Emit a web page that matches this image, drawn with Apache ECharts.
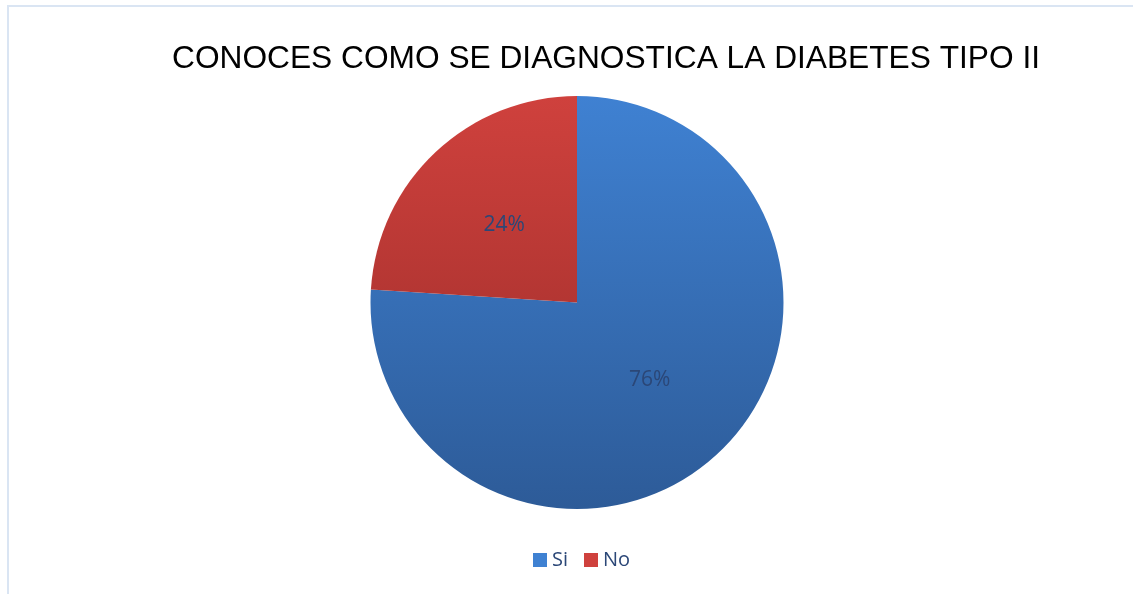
<!DOCTYPE html>
<html>
<head>
<meta charset="utf-8">
<script src="https://cdn.jsdelivr.net/npm/echarts@6/dist/echarts.min.js"></script>
<style>
  html, body { margin: 0; padding: 0; background: #fff; }
  #chart-div { width: 1133px; height: 594px; }
</style>
</head>
<body>
<div id="chart-div"></div>
<script>
// datos del grafico
const categories = ['Si', 'No']
const values = [76, 24]
const colorsTop = ['#3F81D2', '#CF413D']
const colorsBottom = ['#2D5B98', '#982B28']

let myChart = echarts.init(document.getElementById('chart-div'))

// degradado vertical sobre todo el circulo
function grad(i) {
    return {
        type: 'linear', x: 0, y: 96, x2: 0, y2: 509, global: true,
        colorStops: [
            { offset: 0, color: colorsTop[i] },
            { offset: 1, color: colorsBottom[i] }
        ]
    }
}

const option = {
    animation: false,
    title: {
        text: 'CONOCES COMO SE DIAGNOSTICA LA DIABETES TIPO II',
        left: 167,
        top: 38,
        textStyle: {
            fontFamily: 'Liberation Sans',
            fontWeight: 'normal',
            fontSize: 31.7,
            color: '#000'
        }
    },
    legend: {
        bottom: 19,
        left: 528,
        itemWidth: 14,
        itemHeight: 14,
        itemGap: 16,
        icon: 'rect',
        textStyle: { fontFamily: 'Open Sans', fontSize: 20, color: '#2B4777' },
        data: categories
    },
    graphic: [
        { type: 'line', shape: { x1: 8, y1: 6, x2: 1133, y2: 6 }, style: { stroke: '#DAE5F3', lineWidth: 2 } },
        { type: 'line', shape: { x1: 8, y1: 5, x2: 8, y2: 594 }, style: { stroke: '#DAE5F3', lineWidth: 2 } }
    ],
    series: [{
        type: 'pie',
        center: [577, 302.5],
        radius: [0, 206.5],
        startAngle: 90,
        clockwise: true,
        label: {
            position: 'inside',
            formatter: '{c}%',
            fontFamily: 'Open Sans',
            fontSize: 21,
            color: '#2B4777'
        },
        labelLine: { show: false },
        itemStyle: { borderWidth: 0 },
        emphasis: { disabled: true },
        data: categories.map((name, i) => ({
            name: name,
            value: values[i],
            itemStyle: { color: grad(i) }
        }))
    }]
}

myChart.setOption(option)
</script>
</body>
</html>
